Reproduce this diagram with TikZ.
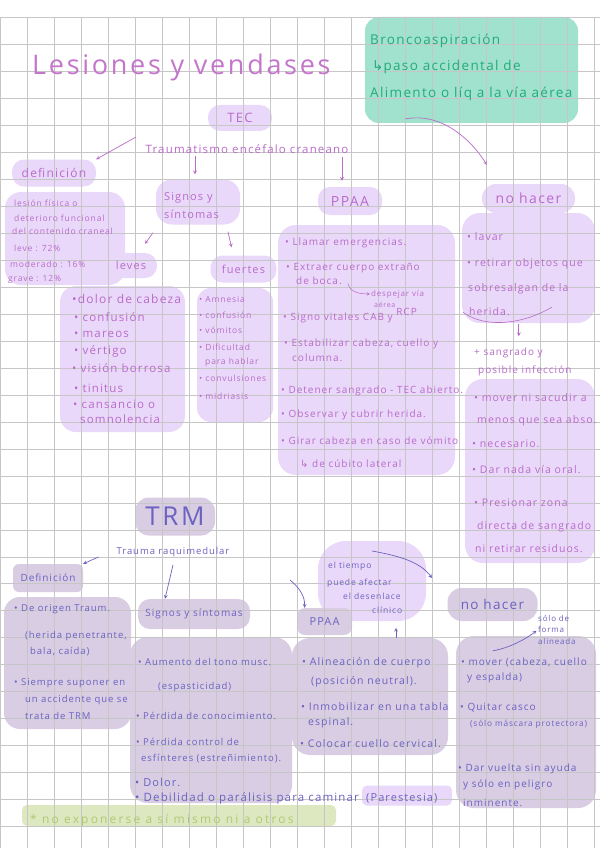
\documentclass[tikz,border=0pt]{standalone}
\usepackage{fontspec}
\setmainfont{Open Sans}[LetterSpace=10]
\newfontfamily\flechas{DejaVu Sans}
\usepackage{tikz}
\usetikzlibrary{positioning, arrows.meta, calc}

\definecolor{tituloink}{RGB}{196,118,202}
\definecolor{tecink}{RGB}{184,108,200}
\definecolor{tecfill}{RGB}{234,216,250}
\definecolor{trmink}{RGB}{108,98,192}
\definecolor{trmfill}{RGB}{217,205,227}
\definecolor{mintfill}{RGB}{160,226,206}
\definecolor{mintink}{RGB}{34,172,122}
\definecolor{limefill}{RGB}{222,232,192}
\definecolor{limeink}{RGB}{176,200,116}
\definecolor{cuadrocol}{RGB}{198,198,198}

\tikzset{
  tecbox/.style={rectangle, rounded corners=12pt, fill=tecfill, draw=none, inner sep=0pt},
  trmbox/.style={rectangle, rounded corners=12pt, fill=trmfill, draw=none, inner sep=0pt},
  mintbox/.style={rectangle, rounded corners=14pt, fill=mintfill, draw=none, inner sep=0pt},
  limebox/.style={rectangle, rounded corners=5pt, fill=limefill, draw=none, inner sep=0pt},
  cuadro/.style={draw=cuadrocol, line width=0.8pt}
}

\begin{document}
\begin{tikzpicture}[
        x=1pt, y=-1pt,
        % estilos de texto
        tectxt/.style={text=tecink, anchor=base west, inner sep=0pt, font=\fontsize{10.5}{12}\selectfont},
        trmtxt/.style={text=trmink, anchor=base west, inner sep=0pt, font=\fontsize{10.5}{12}\selectfont},
        mintxt/.style={text=mintink, anchor=base west, inner sep=0pt, font=\fontsize{13.5}{16}\selectfont},
        chico/.style={font=\fontsize{9.5}{11}\selectfont},
        mini/.style={font=\fontsize{8.5}{11}\selectfont},
        etiqueta/.style={anchor=center, font=\fontsize{12}{14}\selectfont},
        tecarrow/.style={draw=tecink, line width=0.7pt, ->, >=stealth},
        trmarrow/.style={draw=trmink, line width=0.7pt, ->, >=stealth}
        ]
\useasboundingbox (0,0) rectangle (600,848);
\fill[white] (0,0) rectangle (600,848);

% --- Cajas: TEC ---
\node[mintbox, minimum width=213, minimum height=106] (bronco) at (471.5,70) {};
\node[tecbox, minimum width=64, minimum height=26] (tec) at (240,118) {};
\node[tecbox, minimum width=84, minimum height=27] (defi) at (54,173) {};
\node[tecbox, minimum width=120, minimum height=93, rounded corners=16pt] (defilista) at (65,238.5) {};
\node[tecbox, minimum width=84, minimum height=45, rounded corners=16pt] (signos) at (198,202) {};
\node[tecbox, minimum width=52, minimum height=25] (leves) at (131,265.5) {};
\node[tecbox, minimum width=66, minimum height=27] (fuertes) at (243.5,269) {};
\node[tecbox, minimum width=125, minimum height=146, rounded corners=16pt] (leveslista) at (122.5,359) {};
\node[tecbox, minimum width=76, minimum height=134, rounded corners=14pt] (fuerteslista) at (235,355) {};
\node[tecbox, minimum width=64, minimum height=28] (ppaa) at (350,201) {};
\node[tecbox, minimum width=177, minimum height=250, rounded corners=18pt] (ppaalista) at (366.5,350) {};
\node[tecbox, minimum width=93, minimum height=29, rounded corners=14pt] (nohacer) at (528.5,198.5) {};
\node[tecbox, minimum width=133, minimum height=110, rounded corners=18pt] (nhlista) at (528.5,268) {};
\node[tecbox, minimum width=130, minimum height=184, rounded corners=18pt] (nhlista2) at (530,471) {};

% --- Cajas: TRM ---
\node[trmbox, minimum width=80, minimum height=38, rounded corners=14pt] (trm) at (175,516.5) {};
\node[trmbox, minimum width=70, minimum height=28, rounded corners=6pt] (trmdef) at (48,578) {};
\node[trmbox, minimum width=127, minimum height=132, rounded corners=16pt] (trmdeflista) at (67.5,663) {};
\node[trmbox, minimum width=112, minimum height=30] (trmsig) at (194,614) {};
\node[trmbox, minimum width=162, minimum height=166, rounded corners=18pt] (trmsiglista) at (211,720) {};
\node[tecbox, minimum width=108, minimum height=80, rounded corners=28pt] (tiempo) at (372,581) {};
\node[trmbox, minimum width=55, minimum height=27, rounded corners=8pt] (trmppaa) at (324.5,621.5) {};
\node[trmbox, minimum width=156, minimum height=117, rounded corners=18pt] (trmppaalista) at (370,696.5) {};
\node[trmbox, minimum width=90, minimum height=33, rounded corners=14pt] (trmnh) at (492.5,604.5) {};
\node[trmbox, minimum width=140, minimum height=172, rounded corners=18pt] (trmnhlista) at (526,722) {};
\node[tecbox, minimum width=90, minimum height=20, rounded corners=5pt] (parest) at (407,795.5) {};
\node[limebox, minimum width=314, minimum height=21] (lema) at (179,815.5) {};

% --- Cuadricula ---
\foreach \i in {0,...,22}
  \draw[cuadro] (27*\i,17.5) -- (27*\i,848);
\foreach \j in {0,...,30}
  \draw[cuadro] (0,17.5+26.97*\j) -- (600,17.5+26.97*\j);

% --- Titulo y nota verde ---
\node[tectxt, text=tituloink, font=\fontsize{27}{30}\selectfont] (titulo) at (32,75) {Lesiones y vendases};
\node[mintxt] (bronco1) at (370,45) {Broncoaspiración};
\node[mintxt] (bronco2) at (372,71) {{\flechas ↳}paso accidental de};
\node[mintxt] (bronco3) at (370,98) {Alimento o líq a la vía aérea};

% --- TEC ---
\node[tectxt, etiqueta, font=\fontsize{13}{15}\selectfont] (tectexto) at (tec) {TEC};
\node[tectxt, anchor=center, font=\fontsize{11.5}{13}\selectfont] (tecnombre) at (247,149) {Traumatismo encéfalo craneano};
\node[tectxt, etiqueta] (defitexto) at (defi) {definición};
\node[tectxt, mini] (def1) at (14,206) {lesión física o};
\node[tectxt, mini] (def2) at (14,221) {deterioro funcional};
\node[tectxt, mini] (def3) at (12,234) {del contenido craneal};
\node[tectxt, mini] (def4) at (14,251) {leve : 72\%};
\node[tectxt, mini] (def5) at (10,267) {moderado : 16\%};
\node[tectxt, mini] (def6) at (8,281) {grave : 12\%};

\node[tectxt, align=left, font=\fontsize{11}{18}\selectfont] (signostexto) at (164,218) {Signos y\\síntomas};
\node[tectxt, etiqueta, font=\fontsize{11}{13}\selectfont] (levestexto) at (leves) {leves};
\node[tectxt, etiqueta, font=\fontsize{11}{13}\selectfont] (fuertestexto) at (fuertes) {fuertes};

\node[tectxt, font=\fontsize{12}{14}\selectfont] (lev1) at (72,303) {•dolor de cabeza};
\node[tectxt, font=\fontsize{11.5}{14}\selectfont] (lev2) at (74,321) {• confusión};
\node[tectxt, font=\fontsize{11.5}{14}\selectfont] (lev3) at (74,337) {• mareos};
\node[tectxt, font=\fontsize{11.5}{14}\selectfont] (lev4) at (74,354) {• vértigo};
\node[tectxt, font=\fontsize{11.5}{14}\selectfont] (lev5) at (72,372) {• visión borrosa};
\node[tectxt, font=\fontsize{11.5}{14}\selectfont] (lev6) at (74,392) {• tinitus};
\node[tectxt, font=\fontsize{11.5}{14}\selectfont] (lev7) at (73,408) {• cansancio o};
\node[tectxt, font=\fontsize{11.5}{14}\selectfont] (lev8) at (80,423) {somnolencia};

\node[tectxt, mini] (fue1) at (199,302) {• Amnesia};
\node[tectxt, mini] (fue2) at (199,318) {• confusión};
\node[tectxt, mini] (fue3) at (199,333) {• vómitos};
\node[tectxt, mini] (fue4) at (199,350) {• Dificultad};
\node[tectxt, mini] (fue5) at (205,364) {para hablar};
\node[tectxt, mini] (fue6) at (199,381) {• convulsiones};
\node[tectxt, mini] (fue7) at (199,399) {• midriasis};

\node[tectxt, etiqueta, font=\fontsize{14}{16}\selectfont] (ppaatexto) at (ppaa) {PPAA};
\node[tectxt, font=\fontsize{10}{12}\selectfont] (pp1) at (285,245) {• Llamar emergencias.};
\node[tectxt, font=\fontsize{10}{12}\selectfont] (pp2) at (286,270) {• Extraer cuerpo extraño};
\node[tectxt, font=\fontsize{10}{12}\selectfont] (boca) at (296,284) {de boca.};
\node[tectxt, font=\fontsize{8}{10}\selectfont] (despejar) at (371,296) {despejar vía};
\node[tectxt, font=\fontsize{7}{9}\selectfont] (aerea) at (374,307) {aérea};
\node[tectxt, font=\fontsize{10}{12}\selectfont] (pp3) at (283,320) {• Signo vitales CAB y \raisebox{5pt}{RCP}};
\node[tectxt, font=\fontsize{10}{12}\selectfont] (pp4) at (284,346) {• Estabilizar cabeza, cuello y};
\node[tectxt, font=\fontsize{10}{12}\selectfont] (pp5) at (292,361) {columna.};
\node[tectxt, font=\fontsize{10}{12}\selectfont] (pp6) at (281,393) {• Detener sangrado - TEC abierto.};
\node[tectxt, font=\fontsize{10}{12}\selectfont] (pp7) at (281,417) {• Observar y cubrir herida.};
\node[tectxt, font=\fontsize{10}{12}\selectfont] (pp8) at (281,444) {• Girar cabeza en caso de vómito};
\node[tectxt, font=\fontsize{10}{12}\selectfont] (pp9) at (300,467) {{\flechas ↳} de cúbito lateral};

\node[tectxt, etiqueta, font=\fontsize{14}{16}\selectfont] (nohacertexto) at (nohacer) {no hacer};
\node[tectxt] (nh1) at (467,240) {• lavar};
\node[tectxt] (nh2) at (467,266) {• retirar objetos que};
\node[tectxt] (nh3) at (468,291) {sobresalgan de la};
\node[tectxt] (nh4) at (469,315) {herida.};
\node[tectxt, font=\fontsize{10}{12}\selectfont] (sangrado) at (474,355) {+ sangrado y};
\node[tectxt, font=\fontsize{10}{12}\selectfont] (infeccion) at (478,373) {posible infección};
\node[tectxt] (nh5) at (474,401) {• mover ni sacudir a};
\node[tectxt] (nh6) at (477,423) {menos que sea abso.};
\node[tectxt] (nh7) at (472,447) {• necesario.};
\node[tectxt] (nh8) at (472,473) {• Dar nada vía oral.};
\node[tectxt] (nh9) at (474,506) {• Presionar zona};
\node[tectxt] (nh10) at (477,529) {directa de sangrado};
\node[tectxt] (nh11) at (475,552) {ni retirar residuos.};

% --- TRM ---
\node[trmtxt, etiqueta, font=\fontsize{26}{28}\selectfont] (trmtexto) at (trm) {TRM};
\node[trmtxt, anchor=center, font=\fontsize{9.5}{12}\selectfont] (trmtit) at (173,552) {Trauma raquimedular};
\node[trmtxt, etiqueta, font=\fontsize{10}{12}\selectfont] (trmdeftexto) at (trmdef) {Definición};
\node[trmtxt, chico] (td1) at (14,611) {• De origen Traum.};
\node[trmtxt, chico] (td2) at (25,638) {(herida penetrante,};
\node[trmtxt, chico] (td3) at (30,654) {bala, caída)};
\node[trmtxt, chico] (td4) at (14,685) {• Siempre suponer en};
\node[trmtxt, chico] (td5) at (25,702) {un accidente que se};
\node[trmtxt, chico] (td6) at (25,719) {trata de TRM};

\node[trmtxt, etiqueta, font=\fontsize{10}{12}\selectfont] (trmsigtexto) at (trmsig) {Signos y síntomas};
\node[trmtxt, chico] (ts1) at (138,665) {• Aumento del tono musc.};
\node[trmtxt, chico] (ts2) at (158,689) {(espasticidad)};
\node[trmtxt, chico] (ts3) at (136,719) {• Pérdida de conocimiento.};
\node[trmtxt, chico] (ts4) at (136,745) {• Pérdida control de};
\node[trmtxt, chico] (ts5) at (141,761) {esfínteres (estreñimiento).};
\node[trmtxt, font=\fontsize{11}{13}\selectfont] (ts6) at (135,786) {• Dolor.};
\node[trmtxt, font=\fontsize{11.5}{13}\selectfont] (ts7) at (135,801) {• Debilidad o parálisis para caminar};
\node[trmtxt, font=\fontsize{11}{13}\selectfont] (ts8) at (366,801) {(Parestesia)};

\node[trmtxt, mini] (tiempo1) at (328,568) {el tiempo};
\node[trmtxt, mini] (tiempo2) at (327,585) {puede afectar};
\node[trmtxt, mini] (tiempo3) at (343,599) {el desenlace};
\node[trmtxt, mini] (tiempo4) at (372,613) {clínico};

\node[trmtxt, etiqueta, font=\fontsize{11}{13}\selectfont] (trmppaatexto) at (trmppaa) {PPAA};
\node[trmtxt] (tp1) at (302,665) {• Alineación de cuerpo};
\node[trmtxt] (tp2) at (311,684) {(posición neutral).};
\node[trmtxt] (tp3) at (301,710) {• Inmobilizar en una tabla};
\node[trmtxt] (tp4) at (308,725) {espinal.};
\node[trmtxt] (tp5) at (300,747) {• Colocar cuello cervical.};

\node[trmtxt, etiqueta, font=\fontsize{13.5}{15}\selectfont] (trmnhtexto) at (trmnh) {no hacer};
\node[trmtxt, align=left, font=\fontsize{8}{11.5}\selectfont] (alineada) at (538,644) {sólo de\\forma\\alineada};
\node[trmtxt, font=\fontsize{10}{12}\selectfont] (tn1) at (461,665) {• mover (cabeza, cuello};
\node[trmtxt, font=\fontsize{10}{12}\selectfont] (tn2) at (467,680) {y espalda)};
\node[trmtxt, font=\fontsize{10}{12}\selectfont] (tn3) at (460,710) {• Quitar casco};
\node[trmtxt, font=\fontsize{8.3}{10}\selectfont] (tn4) at (470,726) {(sólo máscara protectora)};
\node[trmtxt, font=\fontsize{10}{12}\selectfont] (tn5) at (458,771) {• Dar vuelta sin ayuda};
\node[trmtxt, font=\fontsize{10}{12}\selectfont] (tn6) at (463,787) {y sólo en peligro};
\node[trmtxt, font=\fontsize{10}{12}\selectfont] (tn7) at (463,806) {inminente.};

\node[trmtxt, text=limeink, font=\fontsize{12}{14}\selectfont\addfontfeatures{LetterSpace=18}] (lematexto) at (30,823) {* no exponerse a sí mismo ni a otros};

% --- Flechas TEC ---
\coordinate (defflecha) at (136,137);
\draw[tecarrow] (defflecha) -- (defi.north east);
\draw[tecarrow, shorten <=2pt, shorten >=5pt] ([xshift=-3pt]signos.north |- tecnombre.south) -- ([xshift=-3pt]signos.north);
\draw[tecarrow, shorten <=3pt, shorten >=6pt] ([xshift=-8pt]ppaa.north |- tecnombre.south) -- ([xshift=-8pt]ppaa.north);
\coordinate (nhflecha) at (405,119);
\draw[tecarrow] (nhflecha) .. controls (440,112) and (470,138) .. ([shift={(5,-19)}]nohacer.north west);
\draw[tecarrow] ([shift={(-45,8)}]signos.south) -- ([shift={(14,-9)}]leves.north);
\draw[tecarrow] ([shift={(30,7)}]signos.south) -- ([shift={(-12,-8)}]fuertes.north);
\draw[tecarrow, line width=0.5pt] ([shift={(6,-1)}]boca.south east) .. controls +(2,10) and +(-8,0) .. ([xshift=-1pt]despejar.west);
\draw[draw=tecink, line width=0.6pt] ([shift={(1,-11)}]nhlista.south west) .. controls +(25,18) and +(-25,15) .. ([shift={(90,-16)}]nhlista.south west);
\draw[tecarrow] ([shift={(57,1)}]nhlista.south west) -- ++(0,12);

% --- Flechas TRM ---
\draw[trmarrow] ([shift={(-18,5)}]trmtit.west) -- (trmdef.north east);
\draw[trmarrow] ([shift={(0,8)}]trmtit.south) -- ([xshift=-29pt]trmsig.north);
\coordinate (ppaaflecha) at (290,580);
\draw[trmarrow] (ppaaflecha) .. controls (300,588) and (305,597) .. ([xshift=-20pt]trmppaa.north);
\coordinate (tiempoflecha) at (372,551);
\coordinate (tiempofin) at (432,578);
\draw[trmarrow] (tiempoflecha) .. controls (400,556) and (420,562) .. (tiempofin);
\draw[trmarrow] ([xshift=26pt]trmppaalista.north) -- ++(0,-10);
\draw[trmarrow, shorten >=2pt] ([shift={(37,15)}]trmnhlista.north west) .. controls +(18,-3) and +(-10,8) .. (alineada.west);
\end{tikzpicture}
\end{document}
